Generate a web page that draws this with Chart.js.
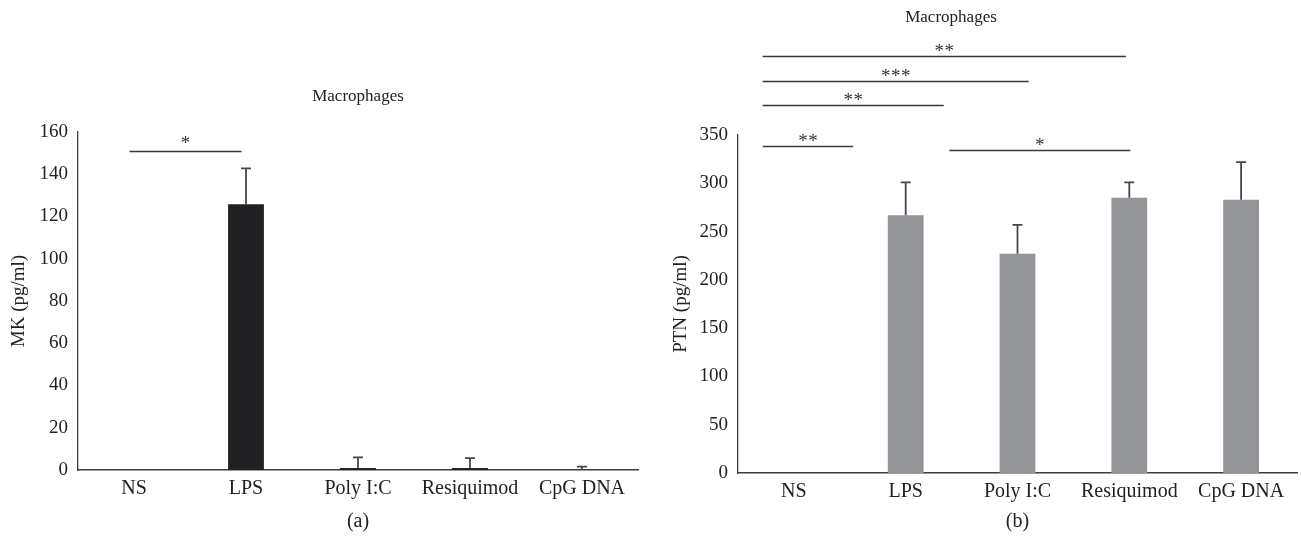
<!DOCTYPE html>
<html><head><meta charset="utf-8">
<script src="https://cdn.jsdelivr.net/npm/chart.js@4.4.1/dist/chart.umd.min.js"></script>
<style>
html,body{margin:0;padding:0;background:#fff;}
#wrap{position:relative;width:1301px;height:546px;overflow:hidden;background:#fff;}
.box{position:absolute;top:0;height:546px;}
#boxA{left:0;width:650px;}
#boxB{left:650px;width:651px;}
</style></head><body>
<div id="wrap">
<div class="box" id="boxA"><canvas id="cA" width="650" height="546"></canvas></div>
<div class="box" id="boxB"><canvas id="cB" width="651" height="546"></canvas></div>
</div>
<script>
// ---- data ----
const categories = ['NS', 'LPS', 'Poly I:C', 'Resiquimod', 'CpG DNA'];
const mkValues = [0, 125.8, 1, 1, 0];
const mkErrors = [0, 17, 5, 4.6, 1.6];
const ptnValues = [0, 267, 227, 285, 283];
const ptnErrors = [0, 34, 30, 16, 39];
const mkTickMax = 160, mkTickStep = 20;
const ptnTickMax = 350, ptnTickStep = 50;
// significance brackets: [from category index, to category index, value level, label]
const mkSigFrom = [-0.04];
const mkSigTo = [0.96];
const mkSigLevel = [151];
const mkSigLabel = ['*'];
const ptnSigFrom = [-0.28, -0.28, -0.28, -0.28, 1.39];
const ptnSigTo = [2.97, 2.10, 1.34, 0.53, 3.01];
const ptnSigLevel = [432, 406, 381, 338.5, 334];
const ptnSigLabel = ['**', '***', '**', '**', '*'];

const SERIF = '"Liberation Serif", "DejaVu Serif", serif';

function makePlugin(cfg) {
  return {
    id: 'extras',
    afterDraw(chart) {
      const ctx = chart.ctx;
      const xs = chart.scales.x, ys = chart.scales.y;
      const meta = chart.getDatasetMeta(0);
      ctx.save();
      // error bars
      ctx.strokeStyle = '#474747';
      ctx.lineWidth = 1.8;
      cfg.values.forEach((v, i) => {
        const e = cfg.errors[i];
        if (!e) return;
        const x = meta.data[i].x;
        const y0 = ys.getPixelForValue(v);
        const y1 = ys.getPixelForValue(v + e);
        ctx.beginPath();
        ctx.moveTo(x, y0); ctx.lineTo(x, y1);
        ctx.moveTo(x - 5, y1); ctx.lineTo(x + 5, y1);
        ctx.stroke();
      });
      // significance lines
      ctx.strokeStyle = '#3a3a3a';
      ctx.lineWidth = 1.4;
      ctx.fillStyle = '#333';
      ctx.font = '19px ' + SERIF;
      ctx.textAlign = 'center';
      ctx.textBaseline = 'alphabetic';
      cfg.sigFrom.forEach((f, i) => {
        const xa = xs.getPixelForValue(f);
        const xb = xs.getPixelForValue(cfg.sigTo[i]);
        const y = Math.round(ys.getPixelForValue(cfg.sigLevel[i])) + 0.5;
        ctx.beginPath(); ctx.moveTo(xa, y); ctx.lineTo(xb, y); ctx.stroke();
        const label = cfg.sigLabel[i];
        const n = label.length, gap = 10;
        const cx = (xa + xb) / 2;
        for (let k = 0; k < n; k++) {
          ctx.fillText('*', cx + (k - (n - 1) / 2) * gap, y + 1 - cfg.sigGap);
        }
      });
      // title
      ctx.fillStyle = '#222';
      ctx.font = '17px ' + SERIF;
      ctx.textBaseline = 'middle';
      ctx.fillText('Macrophages', cfg.titleX, cfg.titleY);
      // panel label
      ctx.font = '20px ' + SERIF;
      ctx.fillText(cfg.panel, (chart.chartArea.left + chart.chartArea.right) / 2, 522);
      // axis title
      ctx.save();
      ctx.translate(cfg.axisTitleX, (chart.chartArea.top + chart.chartArea.bottom) / 2);
      ctx.rotate(-Math.PI / 2);
      ctx.font = '19px ' + SERIF;
      ctx.fillText(cfg.axisTitle, 0, 0);
      ctx.restore();
      ctx.restore();
    }
  };
}

function makeChart(id, cfg) {
  return new Chart(document.getElementById(id), {
    type: 'bar',
    data: {
      labels: categories,
      datasets: [{
        data: cfg.values,
        backgroundColor: cfg.color,
        borderWidth: 0,
        barPercentage: 0.32,
        categoryPercentage: 1.0
      }]
    },
    options: {
      responsive: false,
      animation: false,
      devicePixelRatio: 1,
      layout: { padding: { top: cfg.padTop, right: cfg.padRight, left: 0, bottom: 0 } },
      plugins: { legend: { display: false }, tooltip: { enabled: false }, title: { display: false } },
      scales: {
        x: {
          grid: { display: false, drawTicks: false },
          border: { display: true, color: '#3c3c3c', width: 1.6 },
          ticks: { color: '#222', font: { family: SERIF, size: 20 }, padding: 7, maxRotation: 0, autoSkip: false },
          afterFit(s) { s.height = cfg.xHeight; }
        },
        y: {
          min: 0, max: cfg.max,
          grid: { display: false, drawTicks: false },
          border: { display: true, color: '#3c3c3c', width: 1.3 },
          ticks: { stepSize: cfg.step, color: '#222', font: { family: SERIF, size: 19 }, padding: 10 },
          afterFit(s) { s.width = cfg.yWidth; }
        }
      }
    },
    plugins: [makePlugin(cfg)]
  });
}

makeChart('cA', {
  values: mkValues, errors: mkErrors, color: '#212123',
  max: mkTickMax, step: mkTickStep,
  sigFrom: mkSigFrom, sigTo: mkSigTo, sigLevel: mkSigLevel, sigLabel: mkSigLabel, sigGap: 4,
  padTop: 132, padRight: 12, xHeight: 76, yWidth: 78,
  titleX: 358, titleY: 97, panel: '(a)', axisTitle: 'MK (pg/ml)', axisTitleX: 19
});
makeChart('cB', {
  values: ptnValues, errors: ptnErrors, color: '#939497',
  max: ptnTickMax, step: ptnTickStep,
  sigFrom: ptnSigFrom, sigTo: ptnSigTo, sigLevel: ptnSigLevel, sigLabel: ptnSigLabel, sigGap: 1,
  padTop: 135, padRight: 4, xHeight: 73, yWidth: 88,
  titleX: 301, titleY: 18, panel: '(b)', axisTitle: 'PTN (pg/ml)', axisTitleX: 31
});
</script>
</body></html>
